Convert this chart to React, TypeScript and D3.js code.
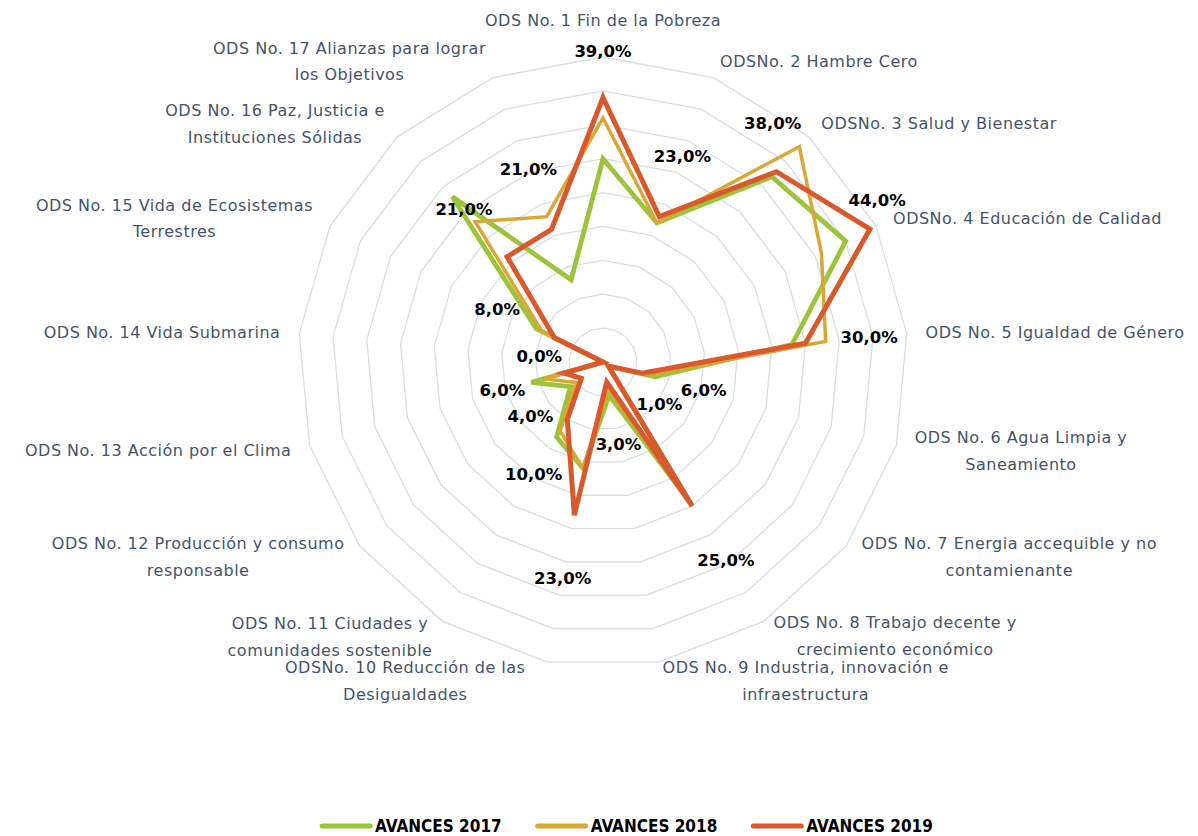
import { useEffect, useRef } from "react";
import * as d3 from "d3";

// ODS categories (one entry per line of the axis label)
const categories: string[][] = [
  ["ODS No. 1 Fin de la Pobreza"],
  ["ODSNo. 2 Hambre Cero"],
  ["ODSNo. 3 Salud y Bienestar"],
  ["ODSNo. 4 Educación de Calidad"],
  ["ODS No. 5 Igualdad de Género"],
  ["ODS No. 6 Agua Limpia y", "Saneamiento"],
  ["ODS No. 7 Energia accequible y no", "contamienante"],
  ["ODS No. 8 Trabajo decente y", "crecimiento económico"],
  ["ODS No. 9 Industria, innovación e", "infraestructura"],
  ["ODSNo. 10 Reducción de las", "Desigualdades"],
  ["ODS No. 11 Ciudades y", "comunidades sostenible"],
  ["ODS No. 12 Producción y consumo", "responsable"],
  ["ODS No. 13 Acción por el Clima"],
  ["ODS No. 14 Vida Submarina"],
  ["ODS No. 15 Vida de Ecosistemas", "Terrestres"],
  ["ODS No. 16 Paz, Justicia e", "Instituciones Sólidas"],
  ["ODS No. 17 Alianzas para lograr", "los Objetivos"],
];

// values in %
const avances2017 = [30, 22, 37, 40, 28, 8, 1, 24, 5, 16, 13, 6, 11, 0, 11, 33, 13];
const avances2018 = [36, 22, 43, 36, 33, 7, 1, 24, 4, 16, 12, 5, 9, 0, 10, 28, 23];
const avances2019 = [39, 23, 38, 44, 30, 6, 1, 25, 3, 23, 10, 4, 6, 0, 8, 21, 21];

const seriesNames = ["AVANCES 2017", "AVANCES 2018", "AVANCES 2019"];
const gridTicks = [5, 10, 15, 20, 25, 30, 35, 40, 45];

const colors = ["#9DC33B", "#D9A735", "#D9592C"];
const widths = [4.8, 3.5, 5];

// labels that were dragged by hand in the original
const valueNudge: Record<number, [number, number]> = { 0: [0, 18], 2: [-47, -1], 3: [-50, 0] };
const catNudge: Record<number, [number, number]> = { 7: [0, -1], 8: [0, 1], 9: [-18, 1] };

export default function App() {
  const ref = useRef<SVGSVGElement>(null);

  useEffect(() => {
    const svg = d3.select(ref.current);
    svg.selectAll("*").remove();

    const cx = 603, cy = 362, R = 305;
    const n = categories.length;
    const angle = d3.scaleLinear().domain([0, n]).range([0, 2 * Math.PI]);
    const r = d3.scaleLinear().domain([0, 45]).range([0, R]);
    const pt = (i: number, rad: number) => [Math.sin(angle(i)) * rad, -Math.cos(angle(i)) * rad];

    const g = svg.append("g").attr("transform", `translate(${cx},${cy})`);

    const radial = d3.lineRadial<number>()
      .angle((d, i) => angle(i))
      .radius((d) => r(d))
      .curve(d3.curveLinearClosed);

    // rings
    g.selectAll("path.grid")
      .data(gridTicks)
      .join("path")
      .attr("class", "grid")
      .attr("d", (t) => radial(categories.map(() => t)))
      .attr("fill", "none")
      .attr("stroke", "#D9DEE6")
      .attr("stroke-width", 1.3);

    // series
    const series = [avances2017, avances2018, avances2019];
    g.selectAll("path.series")
      .data(series)
      .join("path")
      .attr("class", "series")
      .attr("d", (d) => radial(d))
      .attr("fill", "none")
      .attr("stroke", (d, i) => colors[i])
      .attr("stroke-width", (d, i) => widths[i])
      .attr("stroke-linejoin", "miter");

    // value labels (2019)
    g.selectAll("text.val")
      .data(avances2019)
      .join("text")
      .attr("class", "val")
      .attr("x", (d, i) => pt(i, r(d) + 64)[0] + (valueNudge[i]?.[0] ?? 0))
      .attr("y", (d, i) => pt(i, r(d) + 64)[1] + (valueNudge[i]?.[1] ?? 0))
      .attr("text-anchor", "middle")
      .attr("dominant-baseline", "central")
      .attr("font-family", "'DejaVu Sans', sans-serif")
      .attr("font-weight", "bold")
      .attr("font-size", 16.5)
      .attr("fill", "#000")
      .text((d) => d.toFixed(1).replace(".", ",") + "%");

    // category labels
    const lineH = 26.5;
    categories.forEach((lines, i) => {
      const s = Math.sin(angle(i)), c = Math.cos(angle(i));
      const [vx, vy] = pt(i, R);
      const t = g.append("text")
        .attr("text-anchor", "middle")
        .attr("dominant-baseline", "central")
        .attr("font-family", "'DejaVu Sans', sans-serif")
        .attr("font-size", 16)
        .attr("letter-spacing", 0.5)
        .attr("fill", "#44546A");
      lines.forEach((ln, k) => {
        t.append("tspan")
          .attr("x", 0)
          .attr("y", (k - (lines.length - 1) / 2) * lineH)
          .text(ln);
      });
      const w = (t.node() as SVGTextElement).getBBox().width;
      let x = vx;
      let y = vy - 18 * c;
      if (s > 0.1) x = vx + 19 * s + w / 2;
      else if (s < -0.1) x = vx + 19 * s - w / 2;
      else y = vy - 37;
      const nd = catNudge[i] ?? [0, 0];
      t.attr("transform", `translate(${x + nd[0]},${y + nd[1]})`);
    });

    // legend
    const leg = svg.append("g").attr("transform", "translate(0,826)");
    const lineLen = 48, gap = 5, itemGap = 36;
    const items = seriesNames.map((name, i) => {
      const it = leg.append("g");
      it.append("line")
        .attr("x1", 0).attr("x2", lineLen)
        .attr("stroke", colors[i])
        .attr("stroke-width", 5)
        .attr("stroke-linecap", "round");
      const tx = it.append("text")
        .attr("x", lineLen + gap)
        .attr("dominant-baseline", "central")
        .attr("font-family", "'DejaVu Sans Condensed', 'Liberation Sans Narrow', sans-serif")
        .attr("font-weight", "bold")
        .attr("font-size", 17)
        .attr("fill", "#000")
        .text(name);
      return { it, w: lineLen + gap + (tx.node() as SVGTextElement).getComputedTextLength() };
    });
    const total = d3.sum(items, (d) => d.w) + itemGap * (items.length - 1);
    let xPos = 627.5 - total / 2;
    items.forEach((d) => {
      d.it.attr("transform", `translate(${xPos},0)`);
      xPos += d.w + itemGap;
    });
  }, []);

  return (
    <svg
      ref={ref}
      width={1198}
      height={836}
      style={{ position: "absolute", left: 0, top: 0, background: "#fff", display: "block" }}
    />
  );
}
